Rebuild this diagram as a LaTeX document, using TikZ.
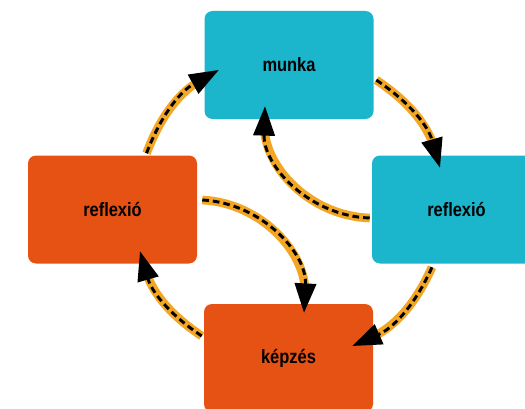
\documentclass[tikz,border=0pt]{standalone}
\usepackage{fontspec}
\setmainfont{Liberation Sans}[FakeStretch=0.85]
\usetikzlibrary{arrows.meta}

\definecolor{workcyan}{HTML}{1BB5CC}
\definecolor{trainred}{HTML}{E65114}
\definecolor{flowgold}{HTML}{F2A623}

\begin{document}
\begin{tikzpicture}[line cap=butt,line join=round,x=0.75pt,y=0.75pt,
  box/.style={rounded corners=6pt,minimum width=126.75pt,minimum height=81pt,
    inner sep=0pt,font=\bfseries\fontsize{14.5}{17}\selectfont},
  flow/.style={black,line width=2.2pt,dash pattern=on 5pt off 3pt,
    -{Triangle[length=22pt 0 0,width=16pt 0 0]},
    preaction={draw=flowgold,line width=6.5pt,solid,arrows=-,shorten >=14pt}}]

% ---- frame of the picture ----
\useasboundingbox (0,0) rectangle (525,408);
\clip (0,0) rectangle (525,408);

% ---- the four boxes ----
\node[box,fill=workcyan] (munka)  at (289,343)     {munka};
\node[box,fill=workcyan] (reflR)  at (456.5,198.5) {reflexió};
\node[box,fill=trainred] (reflL)  at (112.5,198.5) {reflexió};
\node[box,fill=trainred] (kepzes) at (288.5,50)    {képzés};

% ---- outer ring ----
\draw[flow] ([shift={(34,2)}]reflL.north) to[bend left=20] ([shift={(14.5,-5)}]munka.west);
\draw[flow] ([shift={(2.5,-15)}]munka.east) to[bend left=20] ([shift={(-16.5,-12.5)}]reflR.north);
\draw[flow] ([shift={(-24.5,-3.5)}]reflR.south) to[bend left=21] ([shift={(-21,12)}]kepzes.east);
\draw[flow] ([shift={(-2,22)}]kepzes.west) to[bend left=20] ([shift={(27.5,12.5)}]reflL.south);

% ---- inner arcs ----
\draw[flow] ([shift={(-2,-8.5)}]reflR.west) to[bend left=45] ([shift={(-24,13)}]munka.south);
\draw[flow] ([shift={(5,9.5)}]reflL.east) to[bend left=45] ([shift={(15.5,-9)}]kepzes.north);

\end{tikzpicture}
\end{document}
